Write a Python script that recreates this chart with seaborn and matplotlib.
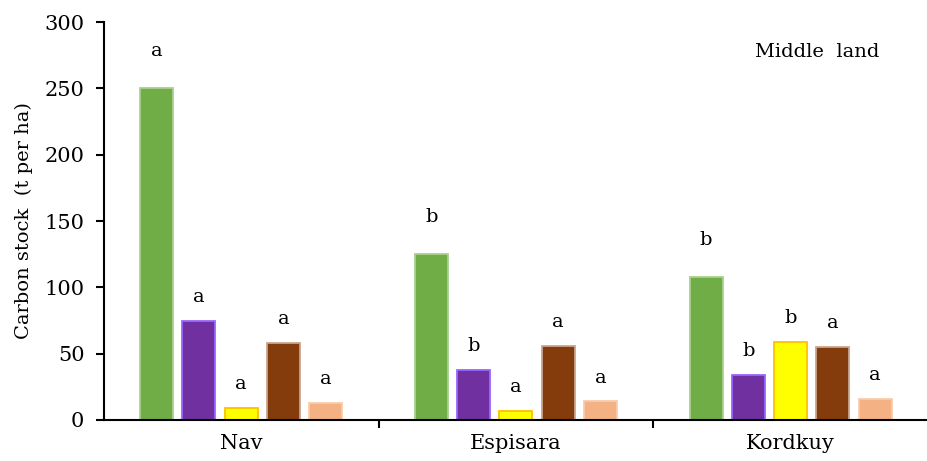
import matplotlib
matplotlib.use("Agg")
import matplotlib.pyplot as plt
import seaborn as sns
import pandas as pd

# sites and carbon pools (t per ha)
sites = ["Nav", "Espisara", "Kordkuy"]
pools = ["Tree", "Shrub", "Herb", "Litter", "Soil"]
tree = [250, 125, 108]
shrub = [75, 38, 34]
herb = [9, 7, 59]
litter = [58, 56, 55]
soil = [13, 14, 16]
letters = {
    "Tree": ["a", "b", "b"],
    "Shrub": ["a", "b", "b"],
    "Herb": ["a", "a", "b"],
    "Litter": ["a", "a", "a"],
    "Soil": ["a", "a", "a"],
}

fills = ["#70AD47", "#7030A0", "#FFFF00", "#843C0C", "#F4B183"]
edges = ["#A9D18E", "#9966FF", "#FFC000", "#C9A58F", "#F8CBAD"]

rows = []
for pool, vals in zip(pools, [tree, shrub, herb, litter, soil]):
    for site, v in zip(sites, vals):
        rows.append({"site": site, "pool": pool, "carbon": v})
df = pd.DataFrame(rows)

sns.set_style("white")
plt.rcParams["font.family"] = ["DejaVu Serif"]
plt.rcParams["text.color"] = "black"
plt.rcParams["xtick.color"] = "black"
plt.rcParams["ytick.color"] = "black"
plt.rcParams["axes.labelcolor"] = "black"

fig = plt.figure(figsize=(9.28, 4.61), dpi=100)
ax = fig.add_axes([0.112, 0.089, 0.888, 0.863])

sns.barplot(data=df, x="site", y="carbon", hue="pool", order=sites,
            hue_order=pools, palette=fills, saturation=1, width=0.77,
            gap=0.22, legend=False, ax=ax)

# bar outlines and the significance letters
for cont, ec, pool in zip(ax.containers, edges, pools):
    for bar, lab in zip(cont, letters[pool]):
        bar.set_edgecolor(ec)
        bar.set_linewidth(1.3)
        h = bar.get_height()
        off = 28 if pool == "Tree" else 18
        ax.text(bar.get_x() + bar.get_width() / 2, h + off, lab,
                ha="center", va="center", fontsize=14)

ax.set_ylim(0, 300)
ax.set_xlim(-0.5, 2.5)
ax.set_yticks(range(0, 301, 50))
ax.set_xticks([0.5, 1.5], minor=True)
ax.tick_params(axis="y", which="major", direction="out", length=6,
               width=1.5, labelsize=15, pad=8, left=True)
ax.tick_params(axis="x", which="major", length=0, labelsize=15, pad=10)
ax.tick_params(axis="x", which="minor", direction="out", length=6,
               width=1.5, bottom=True)

ax.set_xlabel("")
ax.set_ylabel("Carbon stock  (t per ha)", fontsize=14, labelpad=8)

for side in ["top", "right"]:
    ax.spines[side].set_visible(False)
for side in ["left", "bottom"]:
    ax.spines[side].set_color("black")
    ax.spines[side].set_linewidth(1.5)

ax.text(0.866, 0.925, "Middle  land", transform=ax.transAxes,
        ha="center", va="center", fontsize=14)

plt.savefig("out.png", dpi=100)
